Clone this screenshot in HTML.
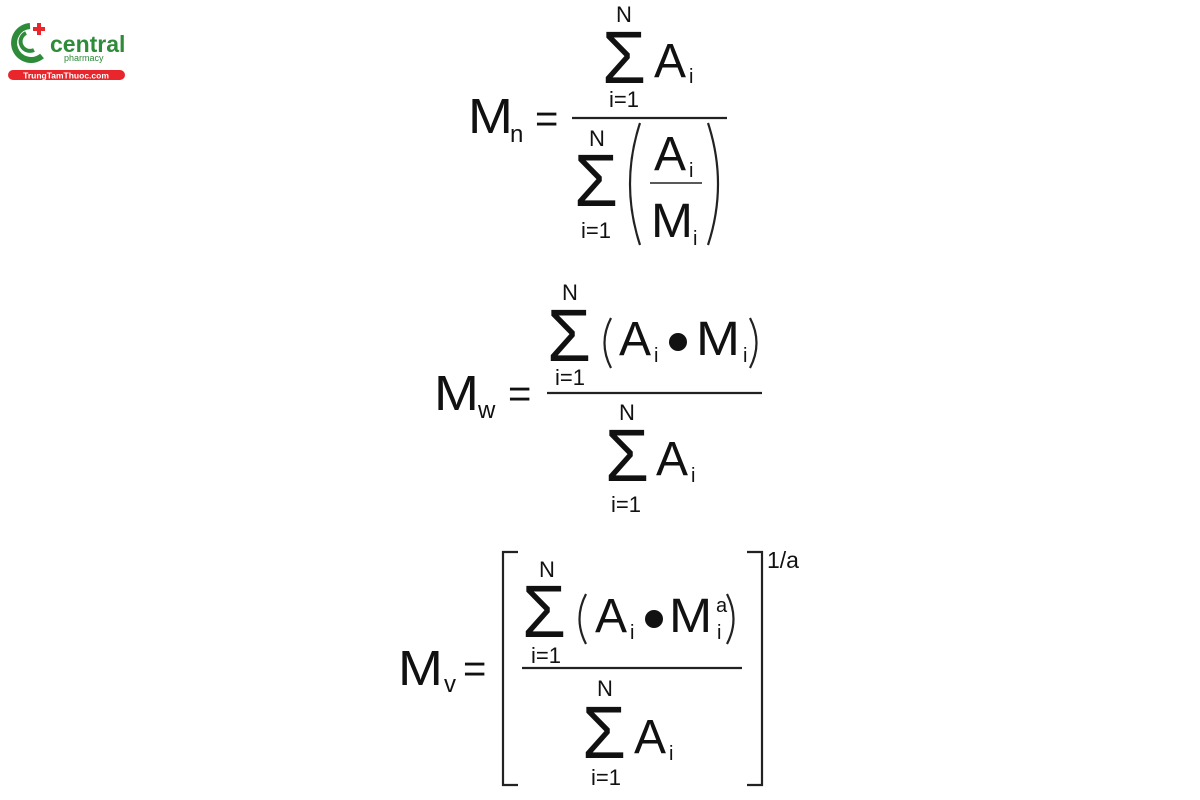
<!DOCTYPE html>
<html><head><meta charset="utf-8"><style>
html,body{margin:0;padding:0;background:#fff;width:1200px;height:800px;overflow:hidden}
svg text{font-family:"Liberation Sans",sans-serif;fill:#111}
</style></head><body>
<svg width="1200" height="800" viewBox="0 0 1200 800" xmlns="http://www.w3.org/2000/svg">
<!-- logo -->
<path d="M30 26 A17 17 0 1 0 42 56" fill="none" stroke="#2e8b3a" stroke-width="6"/>
<path d="M26 33 A9 9 0 1 0 34 50" fill="none" stroke="#2e8b3a" stroke-width="4"/>
<rect x="37" y="23" width="4" height="12" fill="#e8262c"/><rect x="33" y="27" width="12" height="4" fill="#e8262c"/>
<text x="50" y="52" font-size="23" font-weight="bold" style="fill:#2e8b3a">central</text>
<text x="64" y="61" font-size="9" style="fill:#2e8b3a">pharmacy</text>
<rect x="8" y="70" width="117" height="10" rx="5" fill="#e8262c"/>
<text x="66" y="78.5" font-size="8.5" font-weight="bold" text-anchor="middle" style="fill:#fff">TrungTamThuoc.com</text>

<g stroke="#222" fill="none" stroke-width="2.2">
<line x1="572" y1="118" x2="727" y2="118"/>
<line x1="650" y1="183" x2="702" y2="183" stroke-width="1.5"/>
<path d="M640 123 Q620 184 640 245"/>
<path d="M708 123 Q728 184 708 245"/>
<line x1="547" y1="393" x2="762" y2="393"/>
<path d="M611 318 Q598 343 611 368"/>
<path d="M750 318 Q763 343 750 368"/>
<line x1="522" y1="668" x2="742" y2="668"/>
<path d="M586 594 Q573 619 586 644"/>
<path d="M727 594 Q740 619 727 644"/>
<path d="M518 552 L503 552 L503 785 L518 785"/>
<path d="M747 552 L762 552 L762 785 L747 785"/>
</g>

<!-- Formula 1 -->
<text transform="translate(468,133) scale(1.1,1)" font-size="49">M</text>
<text x="510" y="142" font-size="24">n</text>
<text x="535" y="132" font-size="40">=</text>
<text x="616" y="22" font-size="22">N</text>
<text transform="translate(602,83) scale(1.62,1.68)" font-size="44">Σ</text>
<text x="654" y="77" font-size="48">A</text>
<text x="689" y="83" font-size="20">i</text>
<text x="609" y="107" font-size="22">i=1</text>
<text x="589" y="146" font-size="22">N</text>
<text transform="translate(574,206) scale(1.62,1.68)" font-size="44">Σ</text>
<text x="581" y="238" font-size="22">i=1</text>
<text x="654" y="170" font-size="48">A</text>
<text x="689" y="177" font-size="20">i</text>
<text transform="translate(651,237) scale(1.05,1)" font-size="48">M</text>
<text x="693" y="245" font-size="20">i</text>

<!-- Formula 2 -->
<text transform="translate(434,410) scale(1.1,1)" font-size="49">M</text>
<text x="478" y="418" font-size="24">w</text>
<text x="508" y="407" font-size="40">=</text>
<text x="562" y="300" font-size="22">N</text>
<text transform="translate(547,361) scale(1.62,1.68)" font-size="44">Σ</text>
<text x="555" y="385" font-size="22">i=1</text>
<text x="619" y="355" font-size="48">A</text>
<text x="654" y="362" font-size="20">i</text>
<circle cx="678" cy="342" r="9" fill="#111"/>
<text transform="translate(696,355) scale(1.1,1)" font-size="48">M</text>
<text x="743" y="362" font-size="20">i</text>
<text x="619" y="420" font-size="22">N</text>
<text transform="translate(605,481) scale(1.62,1.68)" font-size="44">Σ</text>
<text x="656" y="475" font-size="48">A</text>
<text x="691" y="482" font-size="20">i</text>
<text x="611" y="512" font-size="22">i=1</text>

<!-- Formula 3 -->
<text transform="translate(398,685) scale(1.1,1)" font-size="49">M</text>
<text x="444" y="692" font-size="24">v</text>
<text x="463" y="682" font-size="40">=</text>
<text x="539" y="577" font-size="22">N</text>
<text transform="translate(522,637) scale(1.62,1.68)" font-size="44">Σ</text>
<text x="531" y="663" font-size="22">i=1</text>
<text x="595" y="632" font-size="48">A</text>
<text x="630" y="639" font-size="20">i</text>
<circle cx="654" cy="619" r="9" fill="#111"/>
<text transform="translate(669,632) scale(1.08,1)" font-size="48">M</text>
<text x="716" y="612" font-size="20">a</text>
<text x="717" y="639" font-size="20">i</text>
<text x="597" y="696" font-size="22">N</text>
<text transform="translate(582,758) scale(1.62,1.68)" font-size="44">Σ</text>
<text x="634" y="753" font-size="48">A</text>
<text x="669" y="760" font-size="20">i</text>
<text x="591" y="785" font-size="22">i=1</text>
<text x="767" y="568" font-size="23">1/a</text>
</svg>
</body></html>
